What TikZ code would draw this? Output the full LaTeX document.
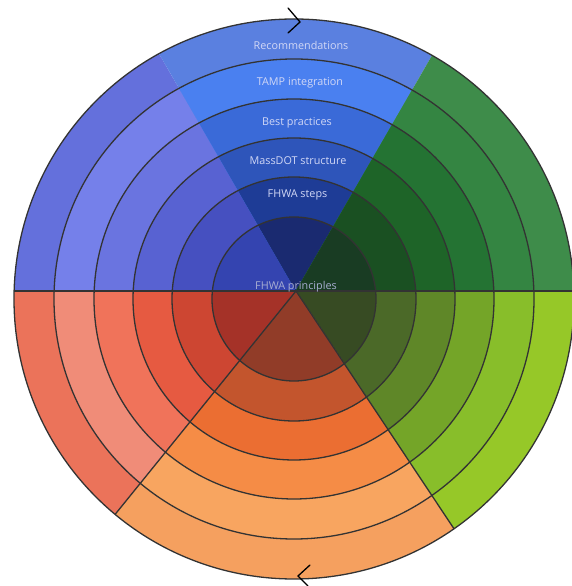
\documentclass[tikz,border=0pt]{standalone}
\usepackage{fontspec}
\newfontfamily\lab{Open Sans}
\usetikzlibrary{calc}
% sector colours, ring 1 = outer ... ring 6 = inner
\definecolor{pw1}{HTML}{6470DC}\definecolor{pw2}{HTML}{7580EA}\definecolor{pw3}{HTML}{6A74E0}
\definecolor{pw4}{HTML}{5862D2}\definecolor{pw5}{HTML}{4650C0}\definecolor{pw6}{HTML}{3444B0}
\definecolor{tb1}{HTML}{5A80E0}\definecolor{tb2}{HTML}{4A80F0}\definecolor{tb3}{HTML}{3A6AD8}
\definecolor{tb4}{HTML}{2E55BA}\definecolor{tb5}{HTML}{1E3C96}\definecolor{tb6}{HTML}{1A2A70}
\definecolor{gr1}{HTML}{3E8C4A}\definecolor{gr2}{HTML}{348542}\definecolor{gr3}{HTML}{247333}
\definecolor{gr4}{HTML}{1E6428}\definecolor{gr5}{HTML}{1A5022}\definecolor{gr6}{HTML}{193C23}
\definecolor{yg1}{HTML}{96C828}\definecolor{yg2}{HTML}{88BE2A}\definecolor{yg3}{HTML}{74A528}
\definecolor{yg4}{HTML}{5F8728}\definecolor{yg5}{HTML}{4B6928}\definecolor{yg6}{HTML}{374B23}
\definecolor{or1}{HTML}{F5A05F}\definecolor{or2}{HTML}{F8A560}\definecolor{or3}{HTML}{F58C46}
\definecolor{or4}{HTML}{EB6E32}\definecolor{or5}{HTML}{C3552D}\definecolor{or6}{HTML}{913C28}
\definecolor{rd1}{HTML}{EB735A}\definecolor{rd2}{HTML}{F08C78}\definecolor{rd3}{HTML}{F0735A}
\definecolor{rd4}{HTML}{E65A41}\definecolor{rd5}{HTML}{CD4632}\definecolor{rd6}{HTML}{A53228}
\definecolor{ringline}{HTML}{333333}
\definecolor{labtext}{HTML}{D2D8F6}
\definecolor{centtext}{HTML}{A8AED2}
\tikzset{
  ring/.style={draw=ringline, line width=1.3pt},
  divider/.style={draw=ringline, line width=1.3pt},
  ringlabel/.style={font=\lab\fontsize{10.8}{12}\selectfont, text=labtext, inner sep=0pt},
  chevron/.style={draw=black, line width=1.3pt, line cap=round, line join=miter}
}
\begin{document}
\begin{tikzpicture}[x=1pt,y=1pt]
\useasboundingbox (0,0) rectangle (571,586);
\coordinate (C) at (294,287);
\coordinate (P) at (296,295);
% filled cells
\foreach \sec/\aa/\ab in {pw/120/180, tb/60/120, gr/0/60, yg/-56.4/0, or/-129/-56.4, rd/180/231}{
  \begin{scope}
    \clip (P) -- ($(P)+(\aa:450)$) arc[start angle=\aa, end angle=\ab, radius=450] -- cycle;
    \foreach \i/\r in {1/280, 2/240, 3/200, 4/161, 5/122, 6/82}{
      \fill[\sec\i] (C) circle[radius=\r];
    }
  \end{scope}
}
% ring outlines
\foreach \r in {280, 240, 200, 161, 122, 82}{
  \draw[ring] (C) circle[radius=\r];
}
% divider lines
\coordinate (L) at (14.2,295);
\coordinate (R) at (573.8,295);
\coordinate (LL) at (115.1,71.6);
\coordinate (LR) at (454.0,57.2);
\draw[divider] (L) -- (R);
\draw[divider] (P) -- (LL);
\draw[divider] (P) -- (LR);
% labels
\node[ringlabel] (rec) at (301,541) {Recommendations};
\node[ringlabel] (tamp) at (300,503) {TAMP integration};
\node[ringlabel] (best) at (297,463) {Best practices};
\node[ringlabel] (mass) at (298,425) {MassDOT structure};
\node[ringlabel] (steps) at (297.5,391) {FHWA steps};
\node[ringlabel, text=centtext] (princ) at (296,299) {FHWA principles};
% rotation chevrons
\coordinate (t1) at (288,578);
\coordinate (t2) at (300,564);
\coordinate (t3) at (288,553);
\draw[chevron] (t1) -- (t2) -- (t3);
\coordinate (b1) at (310,21);
\coordinate (b2) at (298,10);
\coordinate (b3) at (308,0);
\draw[chevron] (b1) -- (b2) -- (b3);
\end{tikzpicture}
\end{document}
